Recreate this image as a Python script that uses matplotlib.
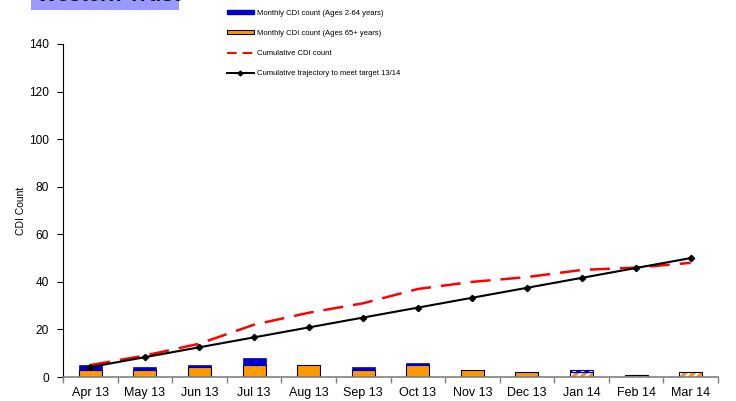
import matplotlib
matplotlib.use("Agg")
import matplotlib.pyplot as plt
from matplotlib.patches import Patch, Rectangle
from matplotlib.lines import Line2D
import numpy as np

plt.rcParams['font.family'] = ['Liberation Sans', 'DejaVu Sans']
plt.rcParams['hatch.linewidth'] = 2.5

months = ["Apr 13", "May 13", "Jun 13", "Jul 13", "Aug 13", "Sep 13",
          "Oct 13", "Nov 13", "Dec 13", "Jan 14", "Feb 14", "Mar 14"]
ages_65_plus = [3, 3, 4, 5, 5, 3, 5, 3, 2, 2, 1, 2]
ages_2_64 = [2, 1, 1, 3, 0, 1, 1, 0, 0, 1, 0, 0]
cumulative = [5, 9, 14, 22, 27, 31, 37, 40, 42, 45, 46, 48]
target_total = 50
provisional_from = 9  # months from Jan 14 onwards are provisional (hatched)

trajectory = [target_total * (i + 1) / len(months) for i in range(len(months))]

BLUE = "#0000CC"
ORANGE = "#FF9900"

fig = plt.figure(figsize=(7.36, 4.01), dpi=100)
ax = fig.add_axes([63 / 736, 1 - 377 / 401, (718 - 63) / 736, (377 - 44) / 401])

x = np.arange(len(months))
w = 0.42
for i in x:
    o, b = ages_65_plus[i], ages_2_64[i]
    if i < provisional_from:
        ax.bar(i, o, w, color=ORANGE, edgecolor="black", linewidth=0.8, zorder=2)
        if b:
            ax.bar(i, b, w, bottom=o, color=BLUE, edgecolor=BLUE, linewidth=0.5, zorder=2)
    else:
        ax.bar(i, o, w, color="white", edgecolor=ORANGE, hatch="////", linewidth=0, zorder=2)
        ax.bar(i, o, w, fill=False, edgecolor="black", linewidth=0.8, zorder=2)
        if b:
            ax.bar(i, b, w, bottom=o, color="white", edgecolor=BLUE, hatch="////", linewidth=0, zorder=2)
            ax.bar(i, b, w, bottom=o, fill=False, edgecolor=BLUE, linewidth=0.8, zorder=2)

ax.plot(x, cumulative, color="#FF0000", linewidth=1.8, dashes=(8, 4), zorder=3)
ax.plot(x, trajectory, color="black", linewidth=1.5, marker="D", markersize=3.2, zorder=4)

ax.set_xlim(-0.5, len(months) - 0.5)
ax.set_ylim(0, 140)
ax.set_yticks(range(0, 141, 20))
ax.set_xticks(x)
ax.set_xticklabels(months)
ax.set_xticks(np.arange(-0.5, len(months)), minor=True)
ax.tick_params(axis="x", which="major", length=0, pad=7, labelsize=9)
ax.tick_params(axis="x", which="minor", length=4, color="#808080", width=1)
ax.tick_params(axis="y", length=4, width=0.8, labelsize=8.6, pad=6)
for s in ("top", "right"):
    ax.spines[s].set_visible(False)
ax.spines["bottom"].set_color("#808080")
ax.spines["bottom"].set_linewidth(1.2)
ax.spines["left"].set_linewidth(0.8)
ax.set_ylabel("CDI Count", fontsize=7.5, labelpad=2)

handles = [
    Patch(facecolor=BLUE, edgecolor=BLUE),
    Patch(facecolor=ORANGE, edgecolor="black", linewidth=0.8),
    Line2D([], [], color="#FF0000", linewidth=1.4, dashes=(5, 3)),
    Line2D([], [], color="black", linewidth=1.4, marker="D", markersize=2.5),
]
labels = ["Monthly CDI count (Ages 2-64 years)",
          "Monthly CDI count (Ages 65+ years)",
          "Cumulative CDI count",
          "Cumulative trajectory to meet target 13/14"]
fig.legend(handles, labels, loc="upper left", bbox_to_anchor=(227 / 736, 1 - 10 / 401),
           frameon=False, fontsize=5.5, handlelength=3.5, handleheight=0.45,
           handletextpad=0.4, labelspacing=1.7, borderpad=0, borderaxespad=0)

# Title banner at the top left
fig.patches.append(Rectangle((31 / 736, 1 - 10 / 401), 148 / 736, 10 / 401,
                             transform=fig.transFigure, facecolor="#9999FF",
                             edgecolor="none", zorder=0))
fig.text(37 / 736, 1 - 0.7 / 401, "Western Trust", fontsize=15.5, fontweight="bold",
         color="#111111", va="baseline", ha="left")

fig.savefig("out.png", dpi=100)
